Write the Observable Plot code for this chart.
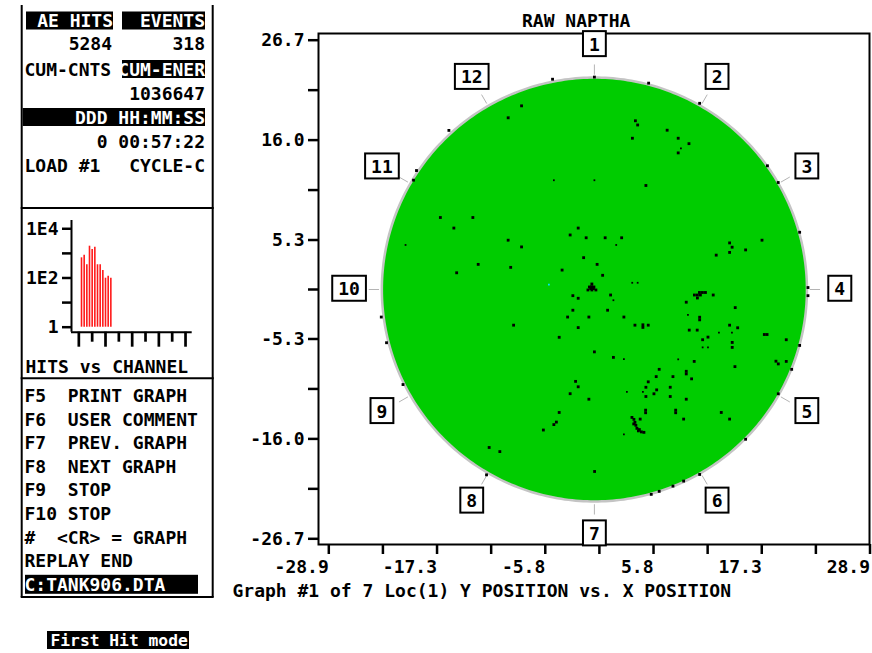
<!DOCTYPE html>
<html><head><meta charset="utf-8">
<script src="https://cdn.jsdelivr.net/npm/d3@7"></script>
<script src="https://cdn.jsdelivr.net/npm/@observablehq/plot@0.6"></script>
<style>
body{margin:0;background:#fff;}
#wrap{position:relative;width:872px;height:653px;overflow:hidden;background:#fff;}
.abs{position:absolute;}
svg text{font-family:"DejaVu Sans Mono",monospace;font-weight:bold;white-space:pre;}
</style></head><body><div id="wrap"></div>
<script>
// ---------- DATA ----------
const title = "RAW NAPTHA";
const caption = "Graph #1 of 7 Loc(1) Y POSITION vs. X POSITION";
const xTicks = [-28.9,-23.12,-17.34,-11.56,-5.78,0,5.78,11.56,17.34,23.12,28.9];
const xTickLabels = ["-28.9","","-17.3","","-5.8","","5.8","","17.3","","28.9"];
const yTicks = [-26.7,-21.35,-16,-10.65,-5.3,0,5.3,10.65,16,21.35,26.7];
const yTickLabels = ["-26.7","","-16.0","","-5.3","","5.3","","16.0","","26.7"];
const tankRadius = 22.7;
const clockLabels = ["1","2","3","4","5","6","7","8","9","10","11","12"];
// located AE hits, [x, y]
const hitXY = [
[-4.47,22.52],[0.00,22.75],[-7.78,19.67],[-9.21,18.39],[-15.54,17.04],[-19.00,12.74],[-19.32,11.71],
[-16.45,7.71],[-12.98,7.71],[-15.01,6.58],[-1.73,6.58],[-2.59,5.84],[-0.88,5.54],[-9.21,5.28],[-7.78,4.56],
[-1.15,3.41],[-12.41,2.69],[-8.94,2.37],[-3.45,2.08],[-14.71,1.79],
[-0.27,0.59],[-0.53,0.27],[-0.05,0.27],[-0.69,-0.05],[-0.27,-0.05],[0.16,-0.05],[-0.30,0.30],[-0.40,0.10],[-0.10,0.10],
[5.79,22.10],[11.24,19.94],[4.38,18.07],[4.62,17.62],[7.77,17.06],[4.06,16.20],[8.95,16.20],[10.10,15.62],[8.95,14.63],
[18.48,13.25],[19.63,11.46],[5.50,11.14],[21.92,6.13],[1.15,5.54],[2.91,5.54],[14.44,4.99],[14.71,4.53],[17.90,5.28],
[16.15,4.24],[13.01,3.68],[14.44,3.97],[0.29,2.69],[0.88,1.52],[22.81,0.21],[22.81,-0.66],
[-22.76,-2.95],[-22.20,-5.70],[-20.44,-10.18],[-11.24,-16.92],[-10.10,-17.36],[-11.52,-19.85],[-8.63,-3.82],
[-2.30,-0.66],[-1.73,-0.94],[-2.30,-2.22],[-2.86,-2.95],[-0.59,-2.95],[-1.73,-4.08],[-3.76,-5.12],[0.00,-6.68],
[-2.01,-9.84],[-1.73,-10.42],[-2.59,-11.16],[-0.59,-11.75],[-3.76,-13.17],[-4.06,-14.20],[-4.33,-14.47],[-5.45,-15.05],
[0.02,-19.49],[1.73,-0.59],[1.41,-2.22],[3.15,-2.95],[4.33,-3.82],[5.18,-3.78],[5.18,-4.06],[5.75,-3.82],[2.03,-7.27],
[10.68,-0.59],[11.00,-0.59],[11.32,-0.59],[11.22,-0.32],[11.54,-0.32],[11.86,-0.32],[11.00,-0.91],
[12.69,-0.59],[9.81,-1.36],[15.04,-1.94],[11.24,-2.97],[11.24,-3.25],[14.44,-3.82],[15.30,-4.10],[10.13,-4.35],[10.98,-4.35],
[18.15,-4.82],[18.44,-4.82],[12.13,-5.10],[11.56,-5.38],[14.72,-5.67],[20.49,-5.38],[21.92,-5.99],[14.72,-6.20],
[10.66,-7.70],[19.39,-7.68],[19.64,-7.97],[20.49,-7.70],[15.01,-8.26],[21.07,-8.55],[6.92,-8.55],[9.81,-8.76],[9.81,-9.04],
[6.60,-9.33],[8.39,-9.33],[10.38,-9.57],[5.75,-9.89],[5.50,-10.47],[8.10,-10.47],[6.65,-10.75],[6.36,-11.17],[5.50,-11.46],
[8.10,-11.46],[9.81,-11.75],[19.64,-11.17],[5.47,-12.92],[5.47,-13.20],[8.68,-12.92],[8.68,-13.20],[13.55,-13.17],
[9.53,-13.88],[14.44,-13.88],
[4.01,-13.70],[4.22,-13.91],[4.33,-14.23],[4.43,-14.55],[4.54,-14.87],[4.70,-15.14],[5.02,-15.25],[5.29,-15.30],[4.89,-13.88],[4.20,-14.40],[4.80,-15.00],
[16.15,-16.04],[11.24,-19.81],[9.53,-20.52],[8.39,-21.06],[6.92,-21.62],[6.07,-21.94]
];
// faint (single-pixel) hits, [x, y]
const faintXY = [
[-4.33,11.70],[0.00,11.70],[-20.17,4.77],[9.24,15.12],[2.33,4.77],[4.04,0.72],[4.62,0.72],[2.03,-1.15],[3.15,-7.46],
[9.99,-2.72],[13.30,-4.61],[14.69,-4.61],[11.56,-6.20],[12.13,-6.20],[8.95,-7.48],[3.47,-10.96],[5.18,-10.96],[3.15,-15.51]
];
const cyanXY = [[-4.86,0.53]];
// histogram: hits vs channel
const channels = [1,2,3,4,5,6,7,8,9,10,11,12];
const channelHits = [660,830,345,1960,1440,1790,345,345,200,98,119,98];
const histTicks = [1,10,100,1000,10000];
const histTickLabels = ["1","","1E2","","1E4"];
const channelTicksLong = [0,10,20,30,40];
const channelTicksShort = [5,15,25,35];
// side panel text
const statusRows = [
  ["AE HITS","EVENTS"],["5284","318"],["CUM-CNTS","CUM-ENER"],["","1036647"],
  ["","DDD HH:MM:SS"],["","0 00:57:22"],["LOAD #1","CYCLE-C"]
];
const histTitle = "HITS vs CHANNEL";
const menuRows = ["F5  PRINT GRAPH","F6  USER COMMENT","F7  PREV. GRAPH","F8  NEXT GRAPH","F9  STOP","F10 STOP","#  <CR> = GRAPH","REPLAY END","C:TANK906.DTA"];
const modeText = "First Hit mode";

// ---------- LAYOUT ----------
const wrap = document.getElementById("wrap");
const FONT = "DejaVu Sans Mono";
const over = d3.create("svg").attr("width",872).attr("height",653).attr("class","abs").style("left","0px").style("top","0px");
const ln = (x1,y1,x2,y2,w=2)=>over.append("line").attr("x1",x1).attr("y1",y1).attr("x2",x2).attr("y2",y2).attr("stroke","#000").attr("stroke-width",w);
ln(21.7,5,21.7,597); ln(212.7,5,212.7,597);
ln(20.7,208,213.7,208); ln(20.7,378.3,213.7,378.3); ln(20.7,597,213.7,597);
const bar = (x,y,w,h)=>over.append("rect").attr("x",x).attr("y",y).attr("width",w).attr("height",h).attr("fill","#000");
bar(26,11.5,87,18); bar(122,11.5,83,18); bar(122,60,83,18); bar(22.7,108,182.3,18);
const txt = (s,x,y,anchor="start",fill="#000",size=18)=>over.append("text").attr("x",x).attr("y",y).attr("text-anchor",anchor)
  .attr("fill",fill).attr("font-size",size).attr("xml:space","preserve").text(s);
const rowC = [20.5,43.5,69,93.5,117,141,165];
const whiteR = [true,false,true,false,true,false,false];
statusRows.forEach((r,i)=>{
  const b = rowC[i]+6.5;
  if (r[0]) {
    if (i===1) txt(r[0],112,b,"end");
    else if (i===0) txt(r[0],113,b,"end","#fff");
    else txt(r[0],24.5,b,"start");
  }
  txt(r[1],205,b,"end",whiteR[i]?"#fff":"#000");
});
txt(histTitle,25.5,366.7+6.5);
const menuC0 = 395.5, menuStep = 23.6;
bar(25,menuC0+8*menuStep-9.5,173,19);
menuRows.forEach((s,i)=>txt(s,24.5,menuC0+i*menuStep+6.5,"start",i===8?"#fff":"#000"));
bar(47,631,142,18);
txt(modeText,50.5,640+6,"start","#fff",16.3);
txt(title,522,26.5);
txt(caption,232.5,597);
wrap.appendChild(over.node());

// ---------- MAIN PLOT ----------
const deg = Math.PI/180;
const circle = d3.range(0,361,1).map(a=>({x:tankRadius*Math.cos(a*deg), y:tankRadius*Math.sin(a*deg)}));
const clock = clockLabels.map((label,i)=>({label, a:(90-30*i)*deg}));
const xLab = new Map(xTicks.map((t,i)=>[t,xTickLabels[i]]));
const yLab = new Map(yTicks.map((t,i)=>[t,yTickLabels[i]]));
const main = Plot.plot({
  width:642, height:600, marginLeft:88, marginRight:3, marginTop:33, marginBottom:56,
  x:{domain:[-28.9,28.9], insetLeft:5.3, insetRight:4.5, label:null},
  y:{domain:[-26.7,26.7], insetTop:6.7, insetBottom:5.7, label:null},
  style:{fontFamily:FONT, fontSize:"18px", fontWeight:"bold", color:"#000", background:"transparent", overflow:"visible", maxWidth:"none"},
  marks:[
    Plot.line(circle,{x:"x", y:"y", fill:"#00cc00", stroke:"#c4c4c4", strokeWidth:2.5}),
    Plot.link(clock,{x1:d=>23.0*Math.cos(d.a), y1:d=>23.0*Math.sin(d.a), x2:d=>24.1*Math.cos(d.a), y2:d=>24.1*Math.sin(d.a), stroke:"#b4b4b4", strokeWidth:1}),
    Plot.dot(hitXY,{x:d=>d[0], y:d=>d[1], symbol:"square", r:1.6, fill:"#000", stroke:null}),
    Plot.dot(faintXY,{x:d=>d[0], y:d=>d[1], symbol:"square", r:1.0, fill:"#000", stroke:null}),
    Plot.dot(cyanXY,{x:d=>d[0], y:d=>d[1], symbol:"square", r:1.0, fill:"#00e5ff", stroke:null}),
    Plot.frame({stroke:"#000", strokeWidth:2}),
    Plot.axisY(yTicks,{tickSize:10, tickPadding:4, tickFormat:d=>yLab.get(d), strokeWidth:2.5}),
    Plot.axisX(xTicks,{tickSize:10, tickPadding:6, tickFormat:d=>xLab.get(d), textAnchor:"end", dx:5, strokeWidth:2.5}),
    Plot.text(clock,{x:d=>26.2*Math.cos(d.a), y:d=>26.2*Math.sin(d.a), text:"label", fill:"#000", fontSize:18})
  ]
});
main.classList.add("abs"); main.style.left="230px"; main.style.top="0px";
wrap.appendChild(main);
// boxes around clock labels
main.querySelectorAll("text").forEach(t=>{
  if (!clockLabels.includes(t.textContent)) return;
  const par = t.parentNode;
  const al = par.getAttribute("aria-label") || "";
  if (al.includes("axis")) return;
  const b = t.getBBox();
  const w = b.width+12, h = 25;
  const r = document.createElementNS("http://www.w3.org/2000/svg","rect");
  r.setAttribute("x", b.x+b.width/2-w/2); r.setAttribute("y", b.y+b.height/2-h/2-0.5);
  r.setAttribute("width", w); r.setAttribute("height", h);
  r.setAttribute("fill","#fff"); r.setAttribute("stroke","#000"); r.setAttribute("stroke-width",2);
  if (t.getAttribute("transform")) r.setAttribute("transform", t.getAttribute("transform"));
  par.insertBefore(r,t);
});

// ---------- HISTOGRAM ----------
const hLab = new Map(histTicks.map((t,i)=>[t,histTickLabels[i]]));
const hist = Plot.plot({
  width:212, height:175, marginLeft:71, marginRight:20.3, marginTop:15, marginBottom:48.3,
  x:{domain:[-2.75,42.5], label:null},
  y:{type:"log", domain:[0.626,21700], label:null},
  style:{fontFamily:FONT, fontSize:"18px", fontWeight:"bold", color:"#000", background:"transparent", overflow:"visible", maxWidth:"none"},
  marks:[
    Plot.ruleX(channels,{x:d=>d, y1:1, y2:(d,i)=>channelHits[i], stroke:"#ff1a1a", strokeWidth:1.6}),
    Plot.ruleX([-2.75],{stroke:"#000", strokeWidth:2}),
    Plot.ruleY([0.626],{stroke:"#000", strokeWidth:2}),
    Plot.axisY(histTicks,{tickSize:9, tickPadding:4, tickFormat:d=>hLab.get(d), strokeWidth:2.5}),
    Plot.axisX(channelTicksLong,{tickSize:15, tickFormat:()=>"", strokeWidth:2.7}),
    Plot.axisX(channelTicksShort,{tickSize:10, tickFormat:()=>"", strokeWidth:2.7})
  ]
});
hist.classList.add("abs"); hist.style.left="0px"; hist.style.top="205px";
wrap.appendChild(hist);
</script></body></html>
